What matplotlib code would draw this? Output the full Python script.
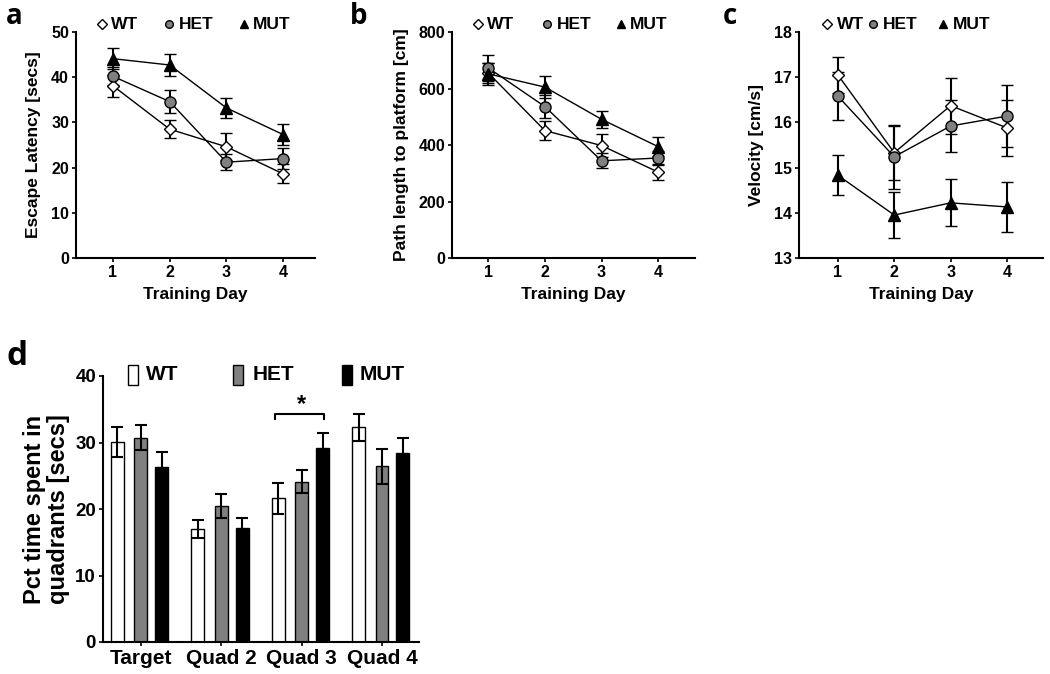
import matplotlib
matplotlib.use('Agg')
import matplotlib.pyplot as plt
from matplotlib.patches import Rectangle

plt.rcParams['font.family'] = ['Liberation Sans', 'DejaVu Sans']
plt.rcParams['font.weight'] = 'bold'

days = [1, 2, 3, 4]
group_names = ['WT', 'HET', 'MUT']

lat_wt = [38.1, 28.5, 24.6, 18.6]
lat_wt_err = [2.4, 2.0, 3.0, 2.1]
lat_het = [40.2, 34.6, 21.2, 22.0]
lat_het_err = [2.0, 2.5, 1.7, 2.3]
lat_mut = [44.1, 42.7, 33.2, 27.3]
lat_mut_err = [2.3, 2.4, 2.2, 2.4]

path_wt = [655, 451, 398, 304]
path_wt_err = [35, 33, 40, 28]
path_het = [673, 536, 344, 354]
path_het_err = [45, 40, 27, 25]
path_mut = [652, 605, 491, 394]
path_mut_err = [40, 40, 31, 33]

vel_wt = [17.05, 15.33, 16.37, 15.88]
vel_wt_err = [0.39, 0.60, 0.62, 0.62]
vel_het = [16.58, 15.24, 15.92, 16.14]
vel_het_err = [0.53, 0.71, 0.58, 0.69]
vel_mut = [14.83, 13.95, 14.22, 14.13]
vel_mut_err = [0.44, 0.50, 0.52, 0.56]

quadrants = ['Target', 'Quad 2', 'Quad 3', 'Quad 4']
quad_wt = [30.1, 17.0, 21.6, 32.3]
quad_wt_err = [2.3, 1.4, 2.3, 2.0]
quad_het = [30.7, 20.4, 24.1, 26.4]
quad_het_err = [1.9, 1.8, 1.7, 2.6]
quad_mut = [26.3, 17.2, 29.2, 28.4]
quad_mut_err = [2.2, 1.4, 2.2, 2.3]

W, H = 1050, 674
fig = plt.figure(figsize=(W / 100, H / 100), dpi=100)


def px_axes(left, top, right, bottom):
    return fig.add_axes([left / W, 1 - bottom / H, (right - left) / W, (bottom - top) / H])


GRAY = '#808080'
styles = [
    dict(marker='D', mfc='white', mec='black', ms=6.5, mew=1.0),
    dict(marker='o', mfc=GRAY, mec='black', ms=8, mew=1.0),
    dict(marker='^', mfc='black', mec='black', ms=8.5, mew=1.0),
]
leg_styles = [
    dict(marker='D', mfc='white', mec='black', ms=5, mew=1.0),
    dict(marker='o', mfc=GRAY, mec='black', ms=5.5, mew=1.0),
    dict(marker='^', mfc='black', mec='black', ms=6, mew=1.0),
]


def style_axes(ax, tick_size=11.5):
    for s in ['top', 'right']:
        ax.spines[s].set_visible(False)
    for s in ['left', 'bottom']:
        ax.spines[s].set_linewidth(1.5)
    ax.tick_params(direction='out', length=3, width=1.2, labelsize=tick_size, pad=2)
    for lab in ax.get_xticklabels() + ax.get_yticklabels():
        lab.set_fontweight('bold')


def line_panel(ax, series, errs, ylim, yticks, ylabel, xlim, mk_x, tx_x, letter, letter_xy):
    for vals, err, st in zip(series, errs, styles):
        ax.errorbar(days, vals, yerr=err, color='black', lw=1.0, elinewidth=1.5,
                    capsize=4, capthick=1.5, zorder=3, **st)
    ax.set_xlim(*xlim)
    ax.set_ylim(*ylim)
    ax.set_yticks(yticks)
    ax.set_xticks(days)
    ax.set_xlabel('Training Day', fontsize=12.5, fontweight='bold', labelpad=5)
    ax.set_ylabel(ylabel, fontsize=12.5, fontweight='bold', labelpad=7)
    style_axes(ax)
    for name, mx, tx, st in zip(group_names, mk_x, tx_x, leg_styles):
        ax.plot([mx], [1.035], transform=ax.transAxes, clip_on=False, ls='none', **st)
        ax.text(tx, 1.035, name, transform=ax.transAxes, fontsize=12.5, fontweight='bold',
                va='center', ha='left')
    fig.text(letter_xy[0] / W, 1 - letter_xy[1] / H, letter, fontsize=20, fontweight='bold',
             family='Open Sans', va='baseline', ha='left')


ax_a = px_axes(76, 32, 315, 258)
line_panel(ax_a, [lat_wt, lat_het, lat_mut], [lat_wt_err, lat_het_err, lat_mut_err],
           (0, 50), [0, 10, 20, 30, 40, 50], 'Escape Latency [secs]', (0.35, 4.56),
           [0.109, 0.389, 0.703], [0.148, 0.432, 0.742], 'a', (6, 24))

ax_b = px_axes(452, 32, 695, 258)
line_panel(ax_b, [path_wt, path_het, path_mut], [path_wt_err, path_het_err, path_mut_err],
           (0, 800), [0, 200, 400, 600, 800], 'Path length to platform [cm]', (0.36, 4.65),
           [0.107, 0.391, 0.695], [0.146, 0.430, 0.731], 'b', (350, 24))

ax_c = px_axes(799, 32, 1043, 258)
line_panel(ax_c, [vel_wt, vel_het, vel_mut], [vel_wt_err, vel_het_err, vel_mut_err],
           (13, 18), [13, 14, 15, 16, 17, 18], 'Velocity [cm/s]', (0.31, 4.64),
           [0.115, 0.303, 0.590], [0.154, 0.342, 0.629], 'c', (723, 24))

# Panel d
ax_d = px_axes(103, 376, 419, 642)
xg = list(range(len(quadrants)))
offsets = [-0.29, 0.0, 0.26]
bar_w = 0.16
fills = ['white', GRAY, 'black']
for vals, err, off, fc in zip([quad_wt, quad_het, quad_mut],
                              [quad_wt_err, quad_het_err, quad_mut_err], offsets, fills):
    xs = [x + off for x in xg]
    ax_d.bar(xs, vals, width=bar_w, color=fc, edgecolor='black', linewidth=1.0, zorder=2)
    ax_d.errorbar(xs, vals, yerr=err, fmt='none', ecolor='black', elinewidth=1.5,
                  capsize=4.5, capthick=1.5, zorder=3)
ax_d.set_xlim(-0.47, 3.46)
ax_d.set_ylim(0, 40)
ax_d.set_yticks([0, 10, 20, 30, 40])
ax_d.set_xticks(xg)
ax_d.set_xticklabels(quadrants)
ax_d.set_ylabel('Pct time spent in\nquadrants [secs]', fontsize=17, fontweight='bold',
                labelpad=4, linespacing=1.05)
style_axes(ax_d, tick_size=13.5)
for lab in ax_d.get_xticklabels():
    lab.set_fontsize(15)

# significance bracket over Quad 3 (WT vs MUT)
q3 = 2
bx0, bx1 = q3 + offsets[0] - 0.04, q3 + offsets[2] + 0.02
ax_d.plot([bx0, bx0, bx1, bx1], [33.6, 34.3, 34.3, 33.6], color='black', lw=1.5,
          clip_on=False, zorder=4)
ax_d.text(q3, 34.0, '*', ha='center', va='bottom', fontsize=17, fontweight='bold')

# legend d
for name, bx, tx, fc in zip(group_names, [0.079, 0.411, 0.756], [0.136, 0.472, 0.813], fills):
    ax_d.add_patch(Rectangle((bx, 0.966), 0.032, 0.075, transform=ax_d.transAxes,
                             facecolor=fc, edgecolor='black', lw=1.0, clip_on=False))
    ax_d.text(tx, 1.004, name, transform=ax_d.transAxes, fontsize=15, fontweight='bold',
              va='center', ha='left')

fig.text(6 / W, 1 - 365 / H, 'd', fontsize=24, fontweight='bold', family='Open Sans',
         va='baseline', ha='left')

fig.savefig('out.png', dpi=100)
